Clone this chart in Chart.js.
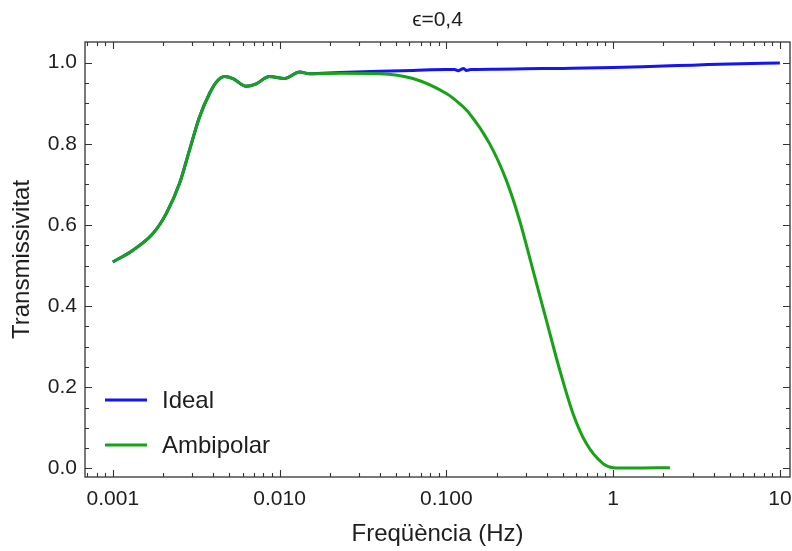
<!DOCTYPE html>
<html><head><meta charset="utf-8">
<script src="https://cdn.jsdelivr.net/npm/chart.js@4/dist/chart.umd.min.js"></script>
<style>html,body{margin:0;padding:0;background:#fff;overflow:hidden}</style>
</head><body>
<canvas id="c" width="792" height="551"></canvas>
<script>
const titleText = 'ϵ=0,4';
const xTitle = 'Freqüència (Hz)';
const yTitle = 'Transmissivitat';
const seriesNames = ['Ideal', 'Ambipolar'];
const seriesColors = ['#1414f5', '#17a317'];

const idealFreq = [0.001, 0.00132, 0.00174, 0.00209, 0.00251, 0.00288, 0.00331, 0.0038, 0.00417, 0.00468, 0.00525, 0.0063, 0.00724, 0.0087, 0.0107, 0.0132, 0.0151, 0.0229, 0.0398, 0.063, 0.1, 0.112, 0.118, 0.122, 0.127, 0.132, 0.14, 0.2, 0.3, 0.5, 1.0, 2.0, 3.0, 5.0, 10.0];
const idealT    = [0.509, 0.538, 0.579, 0.628, 0.702, 0.784, 0.866, 0.924, 0.952, 0.966, 0.961, 0.942, 0.948, 0.966, 0.961, 0.977, 0.973, 0.976, 0.979, 0.981, 0.983, 0.983, 0.980, 0.983, 0.986, 0.981, 0.983, 0.984, 0.985, 0.986, 0.988, 0.992, 0.994, 0.997, 0.999];

const ambFreq = [0.001, 0.00132, 0.00174, 0.00209, 0.00251, 0.00288, 0.00331, 0.0038, 0.00417, 0.00468, 0.00525, 0.0063, 0.00724, 0.0087, 0.0107, 0.0132, 0.0151, 0.0229, 0.0398, 0.063, 0.1, 0.12, 0.138, 0.182, 0.229, 0.275, 0.331, 0.398, 0.479, 0.575, 0.69, 0.87, 1.0, 1.3, 2.19];
const ambT    = [0.509, 0.538, 0.579, 0.628, 0.702, 0.784, 0.866, 0.924, 0.952, 0.966, 0.961, 0.942, 0.948, 0.966, 0.961, 0.977, 0.973, 0.974, 0.973, 0.961, 0.924, 0.899, 0.874, 0.800, 0.710, 0.611, 0.488, 0.365, 0.242, 0.135, 0.062, 0.012, 0.002, 0.001, 0.002];

const xMajorTicks = [0.001, 0.01, 0.1, 1, 10];
const xTickLabels = ['0.001', '0.010', '0.100', '1', '10'];
const yMajorTicks = [0, 0.2, 0.4, 0.6, 0.8, 1.0];
const yTickLabels = ['0.0', '0.2', '0.4', '0.6', '0.8', '1.0'];
const xMin = 0.000681, xMax = 11.5, yMin = -0.021, yMax = 1.051;

const FONT = "'Liberation Sans', Arial, sans-serif";
const TXT = '#1e1e1e';

function xMinorTicks() {
  const out = [];
  for (let e = -4; e <= 1; e++) for (let m = 2; m <= 9; m++) {
    const v = m * Math.pow(10, e);
    if (v > xMin && v < xMax) out.push(v);
  }
  return out;
}
function yMinorTicks() {
  const out = [];
  for (let i = 0; i <= 20; i++) { const v = +(i * 0.05).toFixed(2); if (!yMajorTicks.some(t => Math.abs(t - v) < 1e-9)) out.push(v); }
  return out;
}

const framePlugin = {
  id: 'frameTicks',
  afterDatasetsDraw(chart) {
    const {ctx, chartArea: a, scales} = chart;
    const xs = scales.x, ys = scales.y;
    ctx.save();
    ctx.strokeStyle = '#333';
    ctx.lineWidth = 1.3;
    ctx.strokeRect(a.left, a.top, a.right - a.left, a.bottom - a.top);
    ctx.lineWidth = 1.1;
    ctx.beginPath();
    const drawX = (v, len) => {
      const p = Math.round(xs.getPixelForValue(v)) + 0.5;
      ctx.moveTo(p, a.bottom); ctx.lineTo(p, a.bottom - len);
      ctx.moveTo(p, a.top); ctx.lineTo(p, a.top + len);
    };
    const drawY = (v, len) => {
      const p = Math.round(ys.getPixelForValue(v)) + 0.5;
      ctx.moveTo(a.left, p); ctx.lineTo(a.left + len, p);
      ctx.moveTo(a.right, p); ctx.lineTo(a.right - len, p);
    };
    xMajorTicks.forEach(v => drawX(v, 7));
    xMinorTicks().forEach(v => { if (!xMajorTicks.includes(v)) drawX(v, 4); });
    yMajorTicks.forEach(v => drawY(v, 7));
    yMinorTicks().forEach(v => drawY(v, 4));
    ctx.stroke();

    // legend inside plot area
    const rows = [a.bottom - 77, a.bottom - 32];
    ctx.font = '24px ' + FONT;
    ctx.textBaseline = 'middle';
    ctx.textAlign = 'left';
    chart.data.datasets.forEach((ds, i) => {
      const y = rows[i];
      ctx.strokeStyle = ds.borderColor;
      ctx.lineWidth = 3;
      ctx.beginPath();
      ctx.moveTo(a.left + 20, y); ctx.lineTo(a.left + 62, y);
      ctx.stroke();
      ctx.fillStyle = TXT;
      ctx.fillText(ds.label, a.left + 77, y + 1);
    });
    ctx.restore();
  }
};

new Chart(document.getElementById('c'), {
  type: 'line',
  data: {
    datasets: [
      { label: seriesNames[0], data: idealFreq.map((f, i) => ({x: f, y: idealT[i]})), borderColor: seriesColors[0], borderWidth: 3, pointRadius: 0, cubicInterpolationMode: 'monotone', order: 1 },
      { label: seriesNames[1], data: ambFreq.map((f, i) => ({x: f, y: ambT[i]})), borderColor: seriesColors[1], borderWidth: 3, pointRadius: 0, cubicInterpolationMode: 'monotone', order: 0 }
    ]
  },
  options: {
    responsive: false,
    animation: false,
    devicePixelRatio: 1,
    layout: { padding: { left: 0, right: 2, top: 0, bottom: 0 } },
    plugins: {
      legend: { display: false },
      tooltip: { enabled: false },
      title: { display: true, fullSize: false, text: titleText, color: TXT, font: { family: FONT, size: 21, weight: 'normal' }, padding: { top: 7.5, bottom: 9.3 } }
    },
    scales: {
      x: {
        type: 'logarithmic', min: xMin, max: xMax,
        grid: { display: false, drawTicks: false },
        border: { display: false },
        afterBuildTicks: s => { s.ticks = xMajorTicks.map(v => ({value: v})); },
        afterFit: s => { s.height = 74; s.paddingLeft = 0; s.paddingRight = 0; },
        ticks: {
          autoSkip: false, maxRotation: 0, padding: 10, color: TXT,
          font: { family: FONT, size: 21 },
          callback: (v) => { const i = xMajorTicks.findIndex(t => Math.abs(t - v) / t < 1e-6); return i >= 0 ? xTickLabels[i] : ''; }
        },
        title: { display: true, text: xTitle, color: TXT, font: { family: FONT, size: 24 }, padding: { top: 0, bottom: 2 } }
      },
      y: {
        min: yMin, max: yMax,
        grid: { display: false, drawTicks: false },
        border: { display: false },
        afterBuildTicks: s => { s.ticks = yMajorTicks.map(v => ({value: v})); },
        afterFit: s => { s.width = 85; s.paddingTop = 0; s.paddingBottom = 0; },
        ticks: {
          autoSkip: false, padding: 8, color: TXT,
          font: { family: FONT, size: 21 },
          callback: (v) => { const i = yMajorTicks.findIndex(t => Math.abs(t - v) < 1e-9); return i >= 0 ? yTickLabels[i] : ''; }
        },
        title: { display: true, text: yTitle, color: TXT, font: { family: FONT, size: 24 }, padding: { top: 8, bottom: 0 } }
      }
    }
  },
  plugins: [framePlugin]
});
</script>
</body></html>
